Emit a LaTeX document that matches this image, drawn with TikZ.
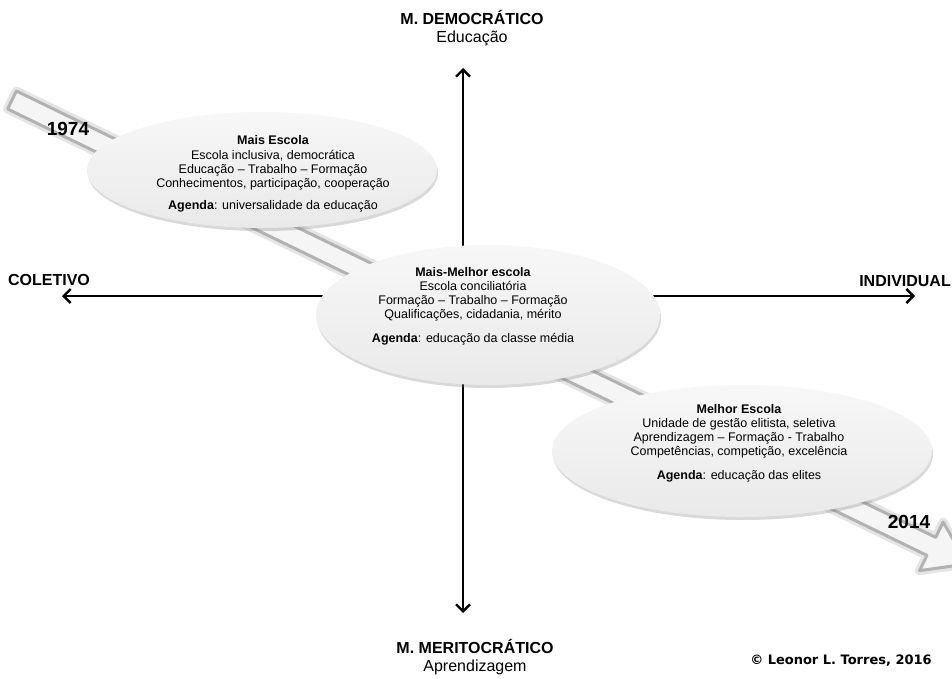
\documentclass[tikz,border=0pt]{standalone}
\usepackage{fontspec}
\setmainfont{Liberation Sans}
\newfontfamily\copyfont{DejaVu Sans}
\usetikzlibrary{arrows.meta,shapes.geometric,shadows}

\tikzset{
  rotulo/.style={font=\fontsize{16}{18.5}\selectfont, align=center, inner sep=0pt},
  eixo/.style={line width=2.4pt,
    {Straight Barb[length=7pt,width=14pt,line width=2.4pt]}-{Straight Barb[length=7pt,width=14pt,line width=2.4pt]}},
  bolha/.style={ellipse, inner sep=0pt, top color=gray!6, bottom color=gray!17,
    drop shadow={shadow xshift=1pt, shadow yshift=-3pt, opacity=0.3}},
  texto/.style={font=\fontsize{12.5}{14.2}\selectfont, align=center, inner sep=0pt},
  ano/.style={font=\bfseries\fontsize{19}{21}\selectfont, inner sep=0pt},
}

\begin{document}
\begin{tikzpicture}[x=1pt,y=-1pt]
  \useasboundingbox (0,0) rectangle (952,679);
  \clip (0,0) rectangle (952,679);

  % seta do tempo
  \begin{scope}[shift={(12,100)}, rotate=-25.9]
    \draw[line width=9pt, gray!20, line join=round]
      (0,-10) -- (1022,-10) -- (1022,-27) -- (1062,0) -- (1022,27) -- (1022,10) -- (0,10) -- cycle;
    \draw[line width=3pt, gray!60, fill=gray!8, line join=round]
      (0,-10) -- (1022,-10) -- (1022,-27) -- (1062,0) -- (1022,27) -- (1022,10) -- (0,10) -- cycle;
  \end{scope}

  % eixos
  \coordinate (topo) at (463,68);
  \coordinate (base) at (463,613);
  \coordinate (esq) at (62,296);
  \coordinate (dir) at (915,296);
  \draw[eixo] (topo) -- (base);
  \draw[eixo] (esq) -- (dir);

  % escolas
  \node[bolha, minimum width=350pt, minimum height=116pt] (e1) at (262,170) {};
  \node[bolha, minimum width=344pt, minimum height=140pt] (e2) at (488,315) {};
  \node[bolha, minimum width=380pt, minimum height=132pt] (e3) at (742,451) {};

  \node[texto] (t1) at (273,174) {\textbf{Mais Escola}\\
    Escola inclusiva, democrática\\
    Educação – Trabalho – Formação\\
    Conhecimentos, participação, cooperação\\[8pt]
    \textbf{Agenda}: universalidade da educação};
  \node[texto] (t2) at (473,306) {\textbf{Mais-Melhor escola}\\
    Escola conciliatória\\
    Formação – Trabalho – Formação\\
    Qualificações, cidadania, mérito\\[9pt]
    \textbf{Agenda}: educação da classe média};
  \node[texto] (t3) at (739,443) {\textbf{Melhor Escola}\\
    Unidade de gestão elitista, seletiva\\
    Aprendizagem – Formação - Trabalho\\
    Competências, competição, excelência\\[9pt]
    \textbf{Agenda}: educação das elites};

  % rotulos
  \node[rotulo] (demo) at (472,28) {\textbf{M. DEMOCRÁTICO}\\Educação};
  \node[rotulo] (merito) at (475,657) {\textbf{M. MERITOCRÁTICO}\\Aprendizagem};
  \node[rotulo] (coletivo) at (49,280) {\textbf{COLETIVO}};
  \node[rotulo, anchor=east] (individual) at (951,281) {\textbf{INDIVIDUAL}};
  \node[ano] (ano1) at (68,129) {1974};
  \node[ano] (ano2) at (909,522) {2014};
  \node[inner sep=0pt, font=\copyfont\bfseries\fontsize{13}{15}\selectfont] (autoria) at (841,661) {© Leonor L. Torres, 2016};
\end{tikzpicture}
\end{document}
